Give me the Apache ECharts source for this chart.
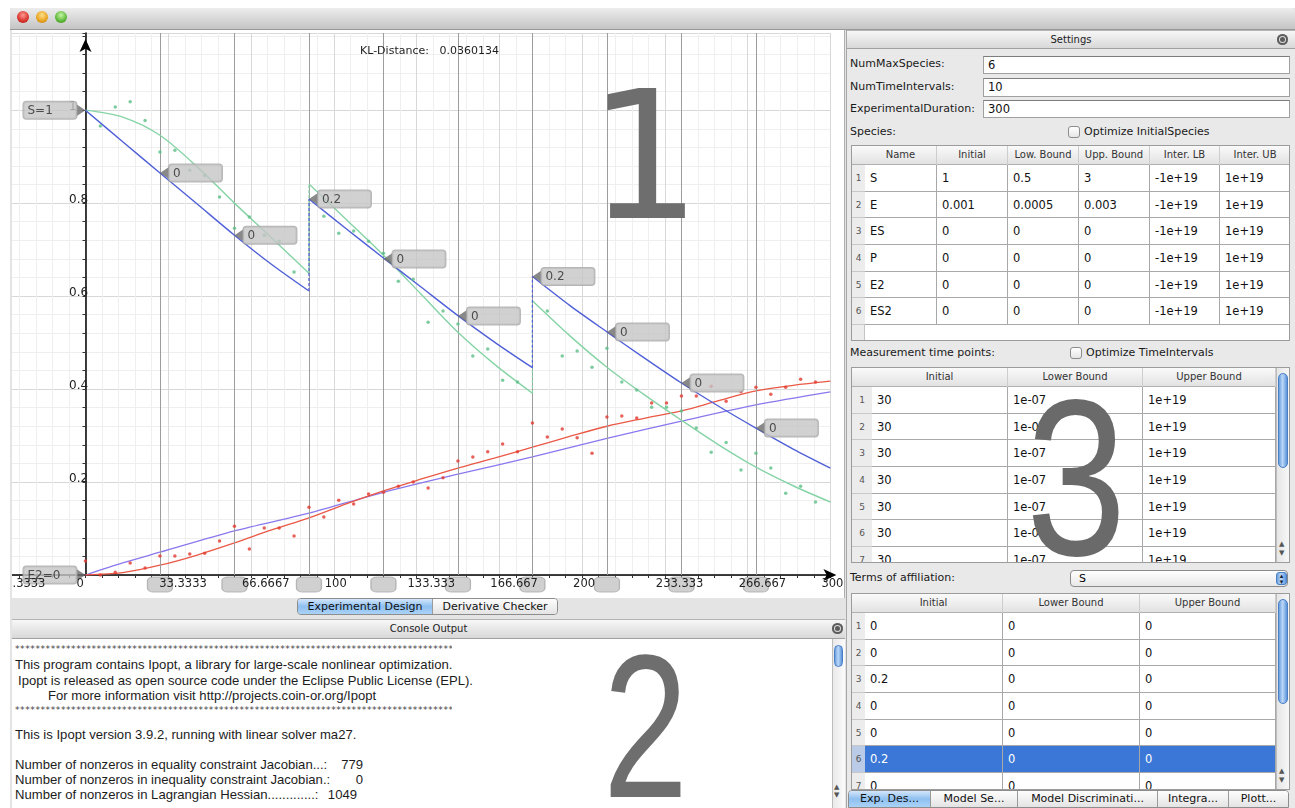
<!DOCTYPE html>
<html>
<head>
<meta charset="utf-8">
<script src="https://cdn.jsdelivr.net/npm/echarts@6/dist/echarts.min.js"></script>
<style>
body{margin:0;width:1295px;height:808px;overflow:hidden;background:#fff;font-family:"DejaVu Sans",sans-serif;position:relative}
.abs{position:absolute}
.hdr{background:linear-gradient(#f7f7f7,#d8d8d8);border-top:1px solid #b4b4b4;border-bottom:1px solid #a0a0a0;box-sizing:border-box;font-size:10px;color:#222;text-align:center}
.lbl{font-size:11px;color:#1a1a1a;line-height:14px;white-space:nowrap}
.inp{background:#fff;border:1px solid #a0a0a0;border-top-color:#7d7d7d;box-sizing:border-box;font-size:11.5px;line-height:16px;padding-left:4px;color:#111}
.chk{width:12px;height:12px;border:1px solid #8c8c8c;border-radius:3px;background:linear-gradient(#fff,#e6e6e6);box-sizing:border-box}
.con{font-family:"Liberation Sans",sans-serif;font-size:13.1px;color:#1c1c1c;white-space:nowrap;line-height:15px}
.stars{font-family:"DejaVu Sans",sans-serif;font-size:9px;color:#444;letter-spacing:0.6px;width:437px;overflow:hidden;white-space:nowrap;line-height:12px}
.big{line-height:1;pointer-events:none;white-space:nowrap;transform-origin:0 0}
.light{width:12px;height:12px;border-radius:50%;top:11px}
.scroll{background:linear-gradient(90deg,#e9e9e9,#fbfbfb);border-left:1px solid #bdbdbd;box-sizing:border-box}
.thumb{border-radius:5px;background:linear-gradient(90deg,#6a9fe0,#bcd8f7 45%,#5b93dc);border:1px solid #4a7fc4;box-sizing:border-box}
.tabs div{float:left;height:100%;font-size:11px;line-height:16px;text-align:center;color:#111;box-sizing:border-box;border-right:1px solid #9a9a9a}
.sel{background:linear-gradient(#d3e6fb,#8fc0f0 50%,#aad2f7)}
.uns{background:linear-gradient(#fdfdfd,#e4e4e4)}
</style>
</head>
<body>
<div class="abs" style="left:10px;top:8px;width:1285px;height:800px;background:#e4e4e4"></div>
<div class="abs" style="left:10px;top:8px;width:1285px;height:21px;background:linear-gradient(#ededed,#c4c4c4);border-bottom:1px solid #999;border-radius:4px 4px 0 0"></div>
<div class="abs light" style="left:17px;background:radial-gradient(circle at 50% 35%,#ff9a90,#d8322b 60%,#a41c17)"></div>
<div class="abs light" style="left:36px;background:radial-gradient(circle at 50% 35%,#ffe08a,#e7a21f 60%,#b57808)"></div>
<div class="abs light" style="left:55px;background:radial-gradient(circle at 50% 35%,#c7f5a6,#5cb838 60%,#348a1a)"></div>

<div id="plotWrap" class="abs" style="left:12px;top:30px;width:833px;height:568px;overflow:hidden;background:#fff;border-right:1px solid #b0b0b0;box-sizing:border-box">
  <div id="chart" style="position:absolute;left:-32px;top:0;width:877px;height:568px"></div>
</div>
<div class="abs big" style="left:588px;top:68px;font-size:178px;color:#6e6e6e">1</div>

<div class="abs tabs" style="left:297px;top:598px;width:261px;height:17px;border:1px solid #8d8d8d;border-radius:4px;overflow:hidden;box-sizing:border-box">
  <div class="sel" style="width:135px">Experimental Design</div>
  <div class="uns" style="width:124px;border-right:none">Derivative Checker</div>
</div>

<div class="abs hdr" style="left:12px;top:619px;width:833px;height:20px;line-height:18px">Console Output</div>
<div class="abs" style="left:832px;top:623px;width:11px;height:11px;border-radius:50%;background:#5c5c5c;box-shadow:inset 0 0 0 2px #5c5c5c,inset 0 0 0 3px #ddd"></div>
<div class="abs" style="left:12px;top:639px;width:820px;height:169px;background:#fff"></div>
<div class="abs scroll" style="left:832px;top:639px;width:13px;height:169px"></div>
<div class="abs thumb" style="left:834px;top:645px;width:9px;height:22px"></div>
<div class="abs" style="left:834px;top:783px;font-size:7px;color:#555;line-height:8px">▲<br>▼</div>

<div class="abs stars" style="left:15px;top:643px">*****************************************************************************************************</div>
<div class="abs con" style="left:15px;top:657px">This program contains Ipopt, a library for large-scale nonlinear optimization.</div>
<div class="abs con" style="left:18px;top:673px">Ipopt is released as open source code under the Eclipse Public License (EPL).</div>
<div class="abs con" style="left:48px;top:688px">For more information visit http://projects.coin-or.org/Ipopt</div>
<div class="abs stars" style="left:15px;top:704px">*****************************************************************************************************</div>
<div class="abs con" style="left:15px;top:727px">This is Ipopt version 3.9.2, running with linear solver ma27.</div>
<div class="abs con" style="left:15px;top:757px">Number of nonzeros in equality constraint Jacobian...:</div>
<div class="abs con" style="left:15px;top:772px">Number of nonzeros in inequality constraint Jacobian.:</div>
<div class="abs con" style="left:15px;top:787px">Number of nonzeros in Lagrangian Hessian.............:</div>
<div class="abs con" style="left:300px;top:757px;width:63px;text-align:right">779</div>
<div class="abs con" style="left:300px;top:772px;width:63px;text-align:right">0</div>
<div class="abs con" style="left:300px;top:787px;width:57px;text-align:right">1049</div>
<div class="abs big" style="left:603px;top:624px;font-size:204px;color:#6e6e6e;font-family:'Liberation Sans',sans-serif;transform:scaleX(0.75)">2</div>

<div class="abs" style="left:846px;top:30px;width:449px;height:778px;background:#e9e9e9;border-left:1px solid #a8a8a8"></div>
<div class="abs hdr" style="left:847px;top:30px;width:448px;height:19px;line-height:17px">Settings</div>
<div class="abs" style="left:1277px;top:34px;width:11px;height:11px;border-radius:50%;background:#5c5c5c;box-shadow:inset 0 0 0 2px #5c5c5c,inset 0 0 0 3px #ddd"></div>

<div class="abs lbl" style="left:850px;top:57px">NumMaxSpecies:</div>
<div class="abs inp" style="left:983px;top:56px;width:307px;height:18px">6</div>
<div class="abs lbl" style="left:850px;top:80px">NumTimeIntervals:</div>
<div class="abs inp" style="left:983px;top:78px;width:307px;height:19px">10</div>
<div class="abs lbl" style="left:850px;top:102px">ExperimentalDuration:</div>
<div class="abs inp" style="left:983px;top:100px;width:307px;height:18px">300</div>
<div class="abs lbl" style="left:850px;top:125px">Species:</div>
<div class="abs chk" style="left:1068px;top:126px"></div>
<div class="abs lbl" style="left:1084px;top:125px">Optimize InitialSpecies</div>

<div class="abs lbl" style="left:850px;top:346px">Measurement time points:</div>
<div class="abs chk" style="left:1070px;top:347px"></div>
<div class="abs lbl" style="left:1086px;top:346px">Optimize TimeIntervals</div>

<div class="abs lbl" style="left:850px;top:571px">Terms of affiliation:</div>
<div class="abs" style="left:1070px;top:570px;width:218px;height:17px;border:1px solid #8a8a8a;border-radius:4px;background:linear-gradient(#fff,#e8e8e8);box-sizing:border-box;font-size:11px;line-height:15px;padding-left:8px">S</div>
<div class="abs thumb" style="left:1276px;top:572px;width:11px;height:13px;border-radius:3px;font-size:7px;line-height:6px;color:#123;text-align:center">▴<br>▾</div>

<div class="abs tabs" style="left:848px;top:790px;width:441px;height:18px;border:1px solid #8d8d8d;border-radius:4px 4px 0 0;overflow:hidden;box-sizing:border-box">
  <div class="sel" style="width:82px">Exp. Des...</div>
  <div class="uns" style="width:87px">Model Se...</div>
  <div class="uns" style="width:140px">Model Discriminati...</div>
  <div class="uns" style="width:71px">Integra...</div>
  <div class="uns" style="width:59px;border-right:none">Plott...</div>
</div>

<script>
// ---- chart data (time in s, concentration) ----
var intervalTimes = [30, 60, 90, 120, 150, 180, 210, 240, 270];
var pulseText = ['0', '0', '0.2', '0', '0', '0.2', '0', '0', '0'];
var pulseLevel = [0.865, 0.731, 0.809, 0.680, 0.557, 0.642, 0.523, 0.413, 0.316];

var sSeg1 = [[0, 1.0], [15, 0.932], [30, 0.865], [45, 0.798], [60, 0.731], [75, 0.668], [90, 0.611]];
var sSeg2 = [[90, 0.809], [105, 0.745], [120, 0.682], [135, 0.620], [150, 0.558], [165, 0.500], [180, 0.446]];
var sSeg3 = [[180, 0.642], [195, 0.580], [210, 0.523], [225, 0.467], [240, 0.413], [255, 0.363], [270, 0.316], [285, 0.271], [300, 0.230]];

var fitSeg1 = [[0, 1.0], [15, 0.985], [30, 0.946], [45, 0.878], [60, 0.800], [75, 0.725], [90, 0.649]];
var fitSeg2 = [[90, 0.841], [105, 0.765], [120, 0.688], [135, 0.605], [150, 0.522], [165, 0.452], [180, 0.391]];
var fitSeg3 = [[180, 0.590], [195, 0.515], [210, 0.447], [225, 0.388], [240, 0.333], [255, 0.280], [270, 0.232], [285, 0.192], [300, 0.157]];

var pLine = [[0, 0], [15, 0.005], [30, 0.021], [45, 0.043], [60, 0.069], [75, 0.097], [90, 0.123], [105, 0.153], [120, 0.181],
  [135, 0.206], [150, 0.230], [165, 0.252], [180, 0.275], [195, 0.298], [210, 0.320], [225, 0.337], [240, 0.353],
  [255, 0.375], [270, 0.396], [285, 0.408], [300, 0.417]];
var e2Line = [[0, 0], [15, 0.026], [30, 0.049], [60, 0.095], [90, 0.133], [120, 0.178], [150, 0.217], [180, 0.254],
  [210, 0.294], [240, 0.331], [270, 0.366], [300, 0.394]];

var sDots = [[6, 0.966], [12, 1.007], [18, 1.018], [24, 0.978], [30, 0.910], [36, 0.914], [42, 0.871], [48, 0.859],
  [54, 0.813], [60, 0.746], [66, 0.770], [72, 0.731], [78, 0.718], [84, 0.652], [96, 0.772], [102, 0.735],
  [108, 0.740], [114, 0.718], [120, 0.692], [126, 0.632], [132, 0.636], [138, 0.544], [144, 0.568], [150, 0.540],
  [156, 0.471], [162, 0.486], [168, 0.419], [174, 0.415], [186, 0.568], [192, 0.471], [198, 0.482], [204, 0.447],
  [210, 0.488], [216, 0.415], [222, 0.398], [228, 0.361], [234, 0.361], [240, 0.353], [246, 0.316], [252, 0.264],
  [258, 0.285], [264, 0.226], [270, 0.262], [276, 0.230], [282, 0.176], [288, 0.191], [294, 0.157]];
var pDots = [[0, 0.030], [6, 0.000], [12, 0.006], [18, 0.026], [24, 0.015], [30, 0.041], [36, 0.041], [42, 0.045],
  [48, 0.047], [54, 0.073], [60, 0.105], [66, 0.056], [72, 0.101], [78, 0.101], [84, 0.084], [90, 0.146],
  [96, 0.125], [102, 0.161], [108, 0.153], [114, 0.174], [120, 0.178], [126, 0.191], [132, 0.200], [138, 0.187],
  [144, 0.209], [150, 0.245], [156, 0.254], [162, 0.265], [168, 0.282], [174, 0.265], [180, 0.327], [186, 0.297],
  [192, 0.314], [198, 0.295], [204, 0.262], [210, 0.340], [216, 0.342], [222, 0.338], [228, 0.370], [234, 0.370],
  [240, 0.385], [246, 0.385], [252, 0.406], [258, 0.374], [264, 0.394], [270, 0.404], [276, 0.389], [282, 0.404],
  [288, 0.421], [294, 0.415]];

var startNames = ['S=1', 'E2=0'];
var startLevels = [1, 0];

var FONT = 'DejaVu Sans';
var boxLabel = {
  show: true, distance: 0,
  backgroundColor: '#c6c6c6', borderColor: '#a4a4a4', borderWidth: 1, borderRadius: 3,
  padding: [2, 4, 1, 4],
  rich: { t: { width: 45, height: 14, lineHeight: 14, align: 'left', fontSize: 12, color: '#2a2a2a', fontFamily: FONT } }
};

var chart = echarts.init(document.getElementById('chart'));

var series = [];
// interval lines + drag handles under the axis
series.push({
  type: 'scatter', data: intervalTimes.map(function (t) { return [t, 0]; }),
  symbol: 'roundRect', symbolSize: [25, 15], symbolOffset: [0, 9.5], clip: false, silent: true, z: 3,
  itemStyle: { color: '#c4c4c4', borderColor: '#a9a9a9', borderWidth: 1 },
  markLine: {
    silent: true, symbol: ['none', 'none'], label: { show: false },
    lineStyle: { color: '#9c9c9c', width: 1, type: 'solid' },
    data: intervalTimes.map(function (t) { return { xAxis: t }; })
  }
});
series.push({ type: 'line', data: e2Line, smooth: 0.3, showSymbol: false, z: 4,
  lineStyle: { color: '#8a78ee', width: 1.3 } });
series.push({ type: 'line', data: pLine, smooth: 0.3, showSymbol: false, z: 4,
  lineStyle: { color: '#ea5846', width: 1.3 } });

[[fitSeg1, fitSeg2, fitSeg3, '#86d4a6'], [sSeg1, sSeg2, sSeg3, '#5060d8']].forEach(function (grp) {
  var segs = grp.slice(0, 3), col = grp[3];
  segs.forEach(function (seg, i) {
    series.push({ type: 'line', data: seg, smooth: 0.3, showSymbol: false, z: 5,
      lineStyle: { color: col, width: 1.4 } });
    if (i < 2) {
      series.push({ type: 'line', data: [seg[seg.length - 1], segs[i + 1][0]], showSymbol: false, z: 5,
        lineStyle: { color: col, width: 1.2, type: [3, 2] } });
    }
  });
});

series.push({ type: 'scatter', data: sDots, symbolSize: 3.5, z: 6, itemStyle: { color: '#5cbf88' } });
series.push({ type: 'scatter', data: pDots, symbolSize: 3.5, z: 6, itemStyle: { color: '#e23a30' } });

// pulse markers on the substrate trajectory
series.push({
  type: 'scatter', z: 10,
  data: intervalTimes.map(function (t, i) { return [t, pulseLevel[i]]; }),
  symbol: 'path://M0,6L10,0L10,12Z', symbolSize: [9, 12], symbolOffset: [4.5, 0],
  itemStyle: { color: '#6c6c6c' },
  label: Object.assign({}, boxLabel, { position: 'right',
    formatter: function (p) { return '{t|' + pulseText[p.dataIndex] + '}'; } })
});
series.push({
  type: 'scatter', z: 10, clip: false,
  data: startLevels.map(function (v, i) { return { name: startNames[i], value: [0, v] }; }),
  symbol: 'path://M10,6L0,0L0,12Z', symbolSize: [9, 12], symbolOffset: [-4.5, 0],
  itemStyle: { color: '#6c6c6c' },
  label: Object.assign({}, boxLabel, { position: 'left', formatter: '{t|{b}}' })
});

chart.setOption({
  animation: false,
  title: { text: 'KL-Distance:   0.0360134', left: 375, top: 11,
    textStyle: { fontSize: 11, fontWeight: 'normal', color: '#1e1e1e', fontFamily: FONT } },
  grid: [
    { left: 22.7, right: 26.6, top: 3, bottom: 23 },
    { left: 13.7, right: 35.6, top: 3, bottom: 23 }
  ],
  xAxis: [{
    gridIndex: 0, type: 'value', min: -100 / 3, max: 300, interval: 100 / 3,
    axisLine: { onZero: true, lineStyle: { color: '#000', width: 1.5 }, symbol: ['none', 'arrow'], symbolSize: [9, 13], symbolOffset: [0, 6] },
    axisTick: { show: true, length: 3, lineStyle: { color: '#333' } },
    minorTick: { show: true, splitNumber: 5, length: 3, lineStyle: { color: '#333' } },
    axisLabel: { show: false },
    splitLine: { lineStyle: { color: '#d8d8d8' } },
    minorSplitLine: { show: true, lineStyle: { color: '#efefef' } }
  }, {
    gridIndex: 1, type: 'value', min: -100 / 3, max: 300, interval: 100 / 3, z: 12,
    axisLine: { show: false }, axisTick: { show: false }, splitLine: { show: false },
    axisLabel: { show: true, align: 'left', margin: 3, color: '#222', fontSize: 11.5, fontFamily: FONT,
      formatter: function (v) { return String(parseFloat(v.toPrecision(6))); } }
  }],
  yAxis: [{
    gridIndex: 0, type: 'value', min: 0, max: 1.166, interval: 0.2, position: 'left', offset: -82.8,
    axisLine: { onZero: false, lineStyle: { color: '#000', width: 1.5 }, symbol: ['none', 'arrow'], symbolSize: [9, 13], symbolOffset: [0, -6] },
    axisTick: { show: true, length: 3, lineStyle: { color: '#333' } },
    minorTick: { show: true, splitNumber: 5, length: 3, lineStyle: { color: '#333' } },
    axisLabel: { show: true, margin: -2.5, color: '#222', fontSize: 12, fontFamily: FONT, showMaxLabel: false,
      formatter: function (v) { return v === 0 ? '' : '{a|' + (+v.toFixed(1)) + '}'; },
      rich: { a: { width: 19, align: 'left', padding: [0, 0, 7, 0], fontSize: 12, color: '#222', fontFamily: FONT } } },
    splitLine: { lineStyle: { color: '#d8d8d8' } },
    minorSplitLine: { show: true, lineStyle: { color: '#efefef' } }
  }, {
    gridIndex: 1, type: 'value', min: 0, max: 1.166, show: false
  }],
  series: series
});

// ---- settings tables (GUI text) ----
function box(parent, x, y, w, h, css, text) {
  var d = document.createElement('div');
  d.style.cssText = 'position:absolute;left:' + x + 'px;top:' + y + 'px;width:' + w + 'px;height:' + h + 'px;box-sizing:border-box;' + (css || '');
  if (text != null) d.textContent = text;
  parent.appendChild(d);
  return d;
}
function buildTable(x, y, cols, head, rows, height, sel, scroll) {
  var W = cols.reduce(function (a, b) { return a + b; }, 0);
  var wrap = box(document.body, x, y, W + (scroll ? 15 : 0), height, 'overflow:hidden;background:#fff;border:1px solid #9c9c9c');
  box(wrap, 0, 0, cols[0], height, 'background:#ececec;border-right:1px solid #c4c4c4');
  box(wrap, 0, 0, W, 19, 'background:linear-gradient(#fafafa,#e2e2e2);border-bottom:1px solid #b0b0b0');
  var cx = cols[0];
  head.forEach(function (h, i) {
    box(wrap, cx, 0, cols[i + 1], 19, 'font-size:10px;line-height:18px;text-align:center;color:#333;border-right:1px solid #cdcdcd', h);
    cx += cols[i + 1];
  });
  rows.forEach(function (r, ri) {
    var ry = 19 + ri * 26.67, x0 = 0, on = ri === sel;
    box(wrap, 0, ry, cols[0], 26.67, 'font-size:9px;line-height:26px;text-align:center;color:#555;border-bottom:1px solid #c8c8c8;background:' + (on ? '#b9cbe6' : '#ececec'), String(ri + 1));
    x0 = cols[0];
    r.forEach(function (c, ci) {
      box(wrap, x0, ry, cols[ci + 1], 26.67, 'font-size:11.5px;line-height:26px;padding-left:5px;white-space:nowrap;overflow:hidden;border-right:1px solid #a8a8a8;border-bottom:1px solid #a8a8a8;color:' + (on ? '#fff;background:#3b77d6' : '#111'), c);
      x0 += cols[ci + 1];
    });
  });
  if (scroll) {
    box(wrap, W, 0, 15, height, 'background:linear-gradient(90deg,#e6e6e6,#fafafa);border-left:1px solid #bdbdbd');
    var t = box(wrap, W + 2, scroll[0], 10, scroll[1], '');
    t.className = 'thumb';
    box(wrap, W + 3, height - 24, 10, 20, 'font-size:7px;line-height:9px;color:#555', '▲\n▼').style.whiteSpace = 'pre';
  }
}

var speciesHead = ['Name', 'Initial', 'Low. Bound', 'Upp. Bound', 'Inter. LB', 'Inter. UB'];
var speciesRows = [
  ['S', '1', '0.5', '3', '-1e+19', '1e+19'],
  ['E', '0.001', '0.0005', '0.003', '-1e+19', '1e+19'],
  ['ES', '0', '0', '0', '-1e+19', '1e+19'],
  ['P', '0', '0', '0', '-1e+19', '1e+19'],
  ['E2', '0', '0', '0', '-1e+19', '1e+19'],
  ['ES2', '0', '0', '0', '-1e+19', '1e+19']
];
var boundHead = ['Initial', 'Lower Bound', 'Upper Bound'];
var timeRows = [];
for (var i = 0; i < 7; i++) timeRows.push(['30', '1e-07', '1e+19']);
var affilRows = [['0', '0', '0'], ['0', '0', '0'], ['0.2', '0', '0'], ['0', '0', '0'], ['0', '0', '0'], ['0.2', '0', '0'], ['0', '0', '0']];

buildTable(851, 145, [13, 72, 71, 71, 71, 70, 71], speciesHead, speciesRows, 196, -1, null);
buildTable(851, 367, [20, 136, 135, 133], boundHead, timeRows, 196, -1, [5, 95]);
buildTable(851, 593, [13, 138, 137, 136], boundHead, affilRows, 197, 5, [5, 105]);
</script>
<div class="abs big" style="left:1026px;top:366px;font-size:223px;color:#6a6a6a;font-family:'Liberation Sans',sans-serif;transform:scaleX(0.81)">3</div>
</body>
</html>
